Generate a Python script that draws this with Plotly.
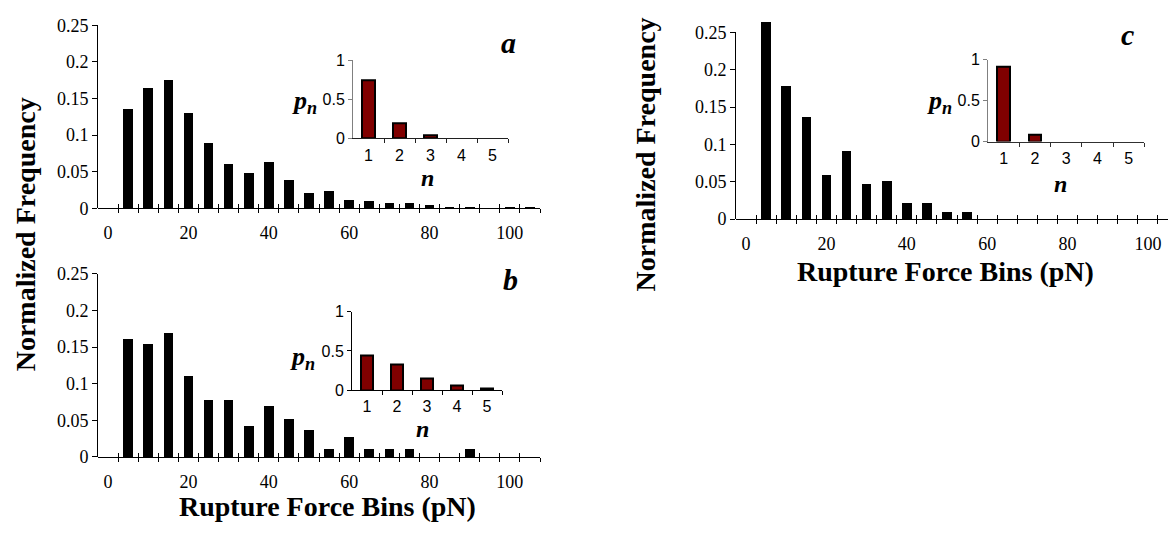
import plotly.graph_objects as go

W, H = 1170, 535

# Rupture force bins (pN) and normalized frequencies for the three conditions
bins = [5, 10, 15, 20, 25, 30, 35, 40, 45, 50, 55, 60, 65, 70, 75, 80, 85, 90, 95, 100, 105]
freq_a = [0.136, 0.165, 0.176, 0.130, 0.090, 0.061, 0.048, 0.063, 0.039, 0.021, 0.024,
          0.012, 0.0105, 0.0075, 0.008, 0.0053, 0.0026, 0.0026, 0.0, 0.0026, 0.0026]
freq_b = [0.161, 0.154, 0.169, 0.110, 0.077, 0.077, 0.0425, 0.070, 0.052, 0.036, 0.011,
          0.027, 0.011, 0.011, 0.011, 0.0, 0.0, 0.011, 0.0, 0.0, 0.0]
freq_c = [0.263, 0.178, 0.136, 0.058, 0.091, 0.046, 0.051, 0.021, 0.021, 0.0095, 0.0095,
          0.0, 0.0, 0.0, 0.0, 0.0, 0.0, 0.0, 0.0, 0.0, 0.0]

# Probability p_n of n bonds rupturing
n_vals = [1, 2, 3, 4, 5]
pn_a = [0.74, 0.19, 0.04, 0.0, 0.0]
pn_b = [0.44, 0.32, 0.145, 0.06, 0.015]
pn_c = [0.92, 0.08, 0.0, 0.0, 0.0]

x_ticks = [0, 20, 40, 60, 80, 100]
y_ticks = [0, 0.05, 0.1, 0.15, 0.2, 0.25]
y_ticktext = ["0", "0.05", "0.1", "0.15", "0.2", "0.25"]
inset_yticks = [0, 0.5, 1]
inset_yticktext = ["0", "0.5", "1"]

SERIF = "Liberation Serif, Times New Roman, serif"
SANS = "Liberation Sans, Arial, sans-serif"

Y_MAX = 0.25        # drawn frequency axis
Y_BAR_MAX = 0.27    # headroom so the tallest bar may rise above the axis end


def fx(p):
    return p / W


def fy(p):
    return 1 - p / H


# category boundaries: ticks sit between bins
bin_edges = [b + 2.5 for b in range(0, 106, 5)]
n_edges = [1.5, 2.5, 3.5, 4.5, 5.5]

panels = [
    dict(freq=freq_a, pn=pn_a, mx=(98, 540), my=(206, 16), xmax=107.5,
         ix=(353, 508), iy=(133.3, 52.3), iycol="#808080", ixcol="#202020"),
    dict(freq=freq_b, pn=pn_b, mx=(98, 540), my=(464.3, 274), xmax=107.5,
         ix=(352, 502), iy=(395, 313.3), iycol="#000000", ixcol="#000000"),
    dict(freq=freq_c, pn=pn_c, mx=(736, 1168), my=(217.3, 23.3), xmax=105.0,
         ix=(988, 1144.3), iy=(136.7, 51.7), iycol="#808080", ixcol="#303030"),
]

fig = go.Figure()
layout = {}

for i, p in enumerate(panels):
    k_main = 5 * i + 1
    k_tick = 5 * i + 2
    k_in = 5 * i + 3
    k_bar = 5 * i + 4
    xm, ym = f"x{k_main}", f"y{k_main}"
    xt = f"x{k_tick}"
    xi, yi = f"x{k_in}", f"y{k_in}"
    yb = f"y{k_bar}"

    fig.add_trace(go.Bar(
        x=bins, y=p["freq"], width=2.4, xaxis=xm, yaxis=yb,
        marker=dict(color="black", line=dict(width=0)),
        showlegend=False, hoverinfo="x+y",
    ))
    fig.add_trace(go.Scatter(x=[], y=[], xaxis=xt, yaxis=ym, showlegend=False,
                             hoverinfo="skip"))
    fig.add_trace(go.Bar(
        x=n_vals, y=p["pn"], width=0.40, xaxis=xi, yaxis=yi,
        marker=dict(color="#800000",
                    line=dict(color="black", width=[2 if v > 0 else 0 for v in p["pn"]])),
        showlegend=False, hoverinfo="x+y",
    ))

    xr = [-2.5, p["xmax"]]
    edges = [e for e in bin_edges if e <= p["xmax"] + 1e-9]
    zero_px, top_px = p["my"]
    px_per_unit = (zero_px - top_px) / Y_MAX
    mdom_x = [fx(p["mx"][0]), fx(p["mx"][1])]
    mdom_y = [fy(zero_px), fy(top_px)]
    bdom_y = [fy(zero_px), fy(zero_px - Y_BAR_MAX * px_per_unit)]

    layout[f"xaxis{k_main}"] = dict(
        domain=mdom_x, range=xr, anchor=ym, tickmode="array", tickvals=x_ticks,
        ticks="", showline=True, linecolor="black", linewidth=1,
        showgrid=False, zeroline=False, ticklabelstandoff=8,
        tickfont=dict(family=SERIF, size=18, color="black"),
        minor=dict(tickmode="array", tickvals=edges, ticks="outside", ticklen=4,
                   tickcolor="black", tickwidth=1, showgrid=False),
    )
    layout[f"xaxis{k_tick}"] = dict(
        overlaying=xm, range=xr, anchor=ym, tickmode="array", tickvals=edges,
        ticks="inside", ticklen=4, tickcolor="black", tickwidth=1,
        showticklabels=False, showline=False, showgrid=False, zeroline=False,
    )
    layout[f"yaxis{k_main}"] = dict(
        domain=mdom_y, range=[0, Y_MAX], anchor=xm, tickmode="array",
        tickvals=y_ticks, ticktext=y_ticktext, ticks="outside", ticklen=5,
        tickcolor="black", showline=True, linecolor="black", linewidth=1,
        showgrid=False, zeroline=False,
        tickfont=dict(family=SERIF, size=18, color="black"),
    )
    layout[f"yaxis{k_bar}"] = dict(
        domain=bdom_y, range=[0, Y_BAR_MAX], anchor=xm, visible=False,
        showgrid=False, zeroline=False,
    )

    idom_x = [fx(p["ix"][0]), fx(p["ix"][1])]
    idom_y = [fy(p["iy"][0]), fy(p["iy"][1])]
    layout[f"xaxis{k_in}"] = dict(
        domain=idom_x, range=[0.5, 5.5], anchor=yi, tickmode="array",
        tickvals=n_vals, ticks="", showline=True, linecolor=p["ixcol"], linewidth=1,
        showgrid=False, zeroline=False, ticklabelstandoff=2,
        tickfont=dict(family=SANS, size=16, color="black"),
        minor=dict(tickmode="array", tickvals=n_edges, ticks="outside", ticklen=4,
                   tickcolor=p["ixcol"], tickwidth=1, showgrid=False),
    )
    layout[f"yaxis{k_in}"] = dict(
        domain=idom_y, range=[0, 1], anchor=xi, tickmode="array",
        tickvals=inset_yticks, ticktext=inset_yticktext, ticks="outside", ticklen=4,
        tickcolor=p["iycol"], showline=True, linecolor=p["iycol"], linewidth=1,
        showgrid=False, zeroline=False,
        tickfont=dict(family=SANS, size=16, color="black"),
    )


def note(text, x, y, size, angle=0, family=SERIF):
    return dict(text=text, x=fx(x), y=fy(y), xref="paper", yref="paper",
                xanchor="center", yanchor="middle", showarrow=False, textangle=angle,
                font=dict(family=family, size=size, color="black"))


pn_label = "<b><i>p</i></b><sub><b><i>n</i></b></sub>"
annotations = [
    note("<b><i>a</i></b>", 508, 34, 30),
    note("<b><i>b</i></b>", 510, 280, 30),
    note("<b><i>c</i></b>", 1127, 25, 30),
    note(pn_label, 304, 96, 26),
    note(pn_label, 302, 361, 26),
    note(pn_label, 939, 96, 26),
    note("<b><i>n</i></b>", 427, 175, 24),
    note("<b><i>n</i></b>", 422, 435, 24),
    note("<b><i>n</i></b>", 1060, 181, 24),
    note("<b>Normalized Frequency</b>", 25, 233, 28, angle=-90),
    note("<b>Normalized Frequency</b>", 645, 150, 28, angle=-90),
    note("<b>Rupture Force Bins (pN)</b>", 327, 516, 28),
    note("<b>Rupture Force Bins (pN)</b>", 945, 272, 28),
]

fig.update_layout(
    width=W, height=H, margin=dict(l=0, r=0, t=0, b=0),
    paper_bgcolor="white", plot_bgcolor="rgba(0,0,0,0)",
    annotations=annotations, bargap=0, showlegend=False,
    **layout,
)

fig.write_html("out.html")
